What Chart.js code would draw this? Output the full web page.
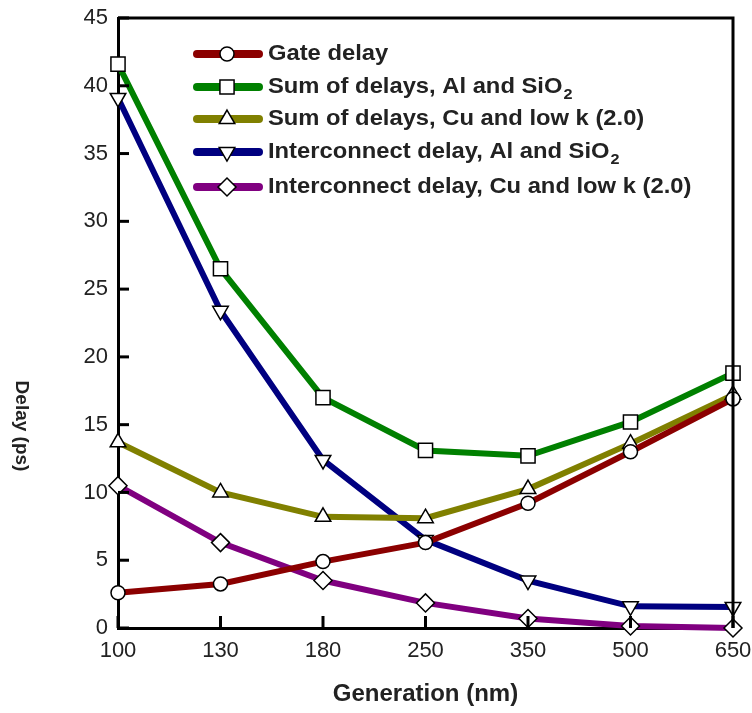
<!DOCTYPE html>
<html>
<head>
<meta charset="utf-8">
<script src="https://cdn.jsdelivr.net/npm/chart.js@4.4.0/dist/chart.umd.min.js"></script>
<style>
html, body { margin: 0; padding: 0; background: #fff; }
</style>
</head>
<body>
<canvas id="grafica" width="752" height="713"></canvas>
<script>
const generaciones = ['100', '130', '180', '250', '350', '500', '650'];
const yTicks = [0, 5, 10, 15, 20, 25, 30, 35, 40, 45];

const gateDelay  = [2.6, 3.25, 4.9, 6.3, 9.2, 13.0, 16.9];
const sumAlSiO2  = [41.6, 26.5, 17.0, 13.1, 12.7, 15.2, 18.8];
const sumCuLowK  = [13.7, 10.0, 8.2, 8.1, 10.25, 13.6, 17.2];
const interAlSiO2 = [39.1, 23.4, 12.4, 6.5, 3.5, 1.6, 1.55];
const interCuLowK = [10.5, 6.3, 3.5, 1.85, 0.7, 0.15, 0.0];

const FUENTE = '"Liberation Sans", Arial, sans-serif';

function serie(label, data, color, estilo, radio, rot) {
    return {
        label: label,
        data: data,
        borderColor: color,
        borderWidth: 6,
        fill: false,
        tension: 0,
        clip: false,
        pointStyle: estilo,
        pointRadius: radio,
        pointRotation: rot || 0,
        pointBackgroundColor: '#fff',
        pointBorderColor: '#000',
        pointBorderWidth: 1.5
    };
}

// ticks hacia dentro, marco superior/derecho, leyenda y titulo Y
const marco = {
    id: 'marco',
    afterDraw(chart) {
        const ctx = chart.ctx;
        const a = chart.chartArea;
        const xs = chart.scales.x, ys = chart.scales.y;
        ctx.save();
        ctx.strokeStyle = '#000';
        ctx.lineWidth = 3;
        ctx.beginPath();
        ctx.moveTo(a.left, a.top);
        ctx.lineTo(a.right, a.top);
        ctx.lineTo(a.right, a.bottom);
        ctx.stroke();
        ys.ticks.forEach(t => {
            const y = ys.getPixelForValue(t.value);
            ctx.beginPath();
            ctx.moveTo(a.left, y);
            ctx.lineTo(a.left + 11, y);
            ctx.stroke();
        });
        xs.ticks.forEach((t, i) => {
            const x = xs.getPixelForTick(i);
            ctx.beginPath();
            ctx.moveTo(x, a.bottom);
            ctx.lineTo(x, a.bottom - 12);
            ctx.stroke();
        });

        // titulo eje Y (leido de arriba hacia abajo)
        ctx.save();
        ctx.translate(21, 426);
        ctx.rotate(Math.PI / 2);
        ctx.font = 'bold 19px ' + FUENTE;
        ctx.fillStyle = '#222';
        ctx.textAlign = 'center';
        ctx.textBaseline = 'middle';
        ctx.fillText('Delay (ps)', 0, 0);
        ctx.restore();

        // leyenda dentro del area
        const x0 = 197, x1 = 259, xm = 227, xt = 268;
        const filas = [54, 87, 119, 152, 187];
        chart.data.datasets.forEach((ds, i) => {
            const y = filas[i];
            ctx.strokeStyle = ds.borderColor;
            ctx.lineWidth = 8;
            ctx.lineCap = 'round';
            ctx.beginPath();
            ctx.moveTo(x0, y);
            ctx.lineTo(x1, y);
            ctx.stroke();
            ctx.fillStyle = '#fff';
            ctx.strokeStyle = '#000';
            ctx.lineWidth = 1.5;
            Chart.helpers.drawPoint(ctx, {
                pointStyle: ds.pointStyle,
                rotation: ds.pointRotation,
                radius: ds.pointRadius,
                borderWidth: 1.5
            }, xm, y);

            // texto algo ensanchado como en el original
            ctx.save();
            ctx.translate(xt, y);
            ctx.scale(1.08, 1);
            ctx.fillStyle = '#222';
            ctx.textAlign = 'left';
            ctx.textBaseline = 'middle';
            const partes = ds.label.split('\u2082');
            ctx.font = 'bold 22px ' + FUENTE;
            ctx.fillText(partes[0], 0, 0);
            if (partes.length > 1) {
                const w = ctx.measureText(partes[0]).width;
                ctx.font = 'bold 15px ' + FUENTE;
                ctx.fillText('2', w + 1, 8);
            }
            ctx.restore();
        });
        ctx.restore();
    }
};

new Chart(document.getElementById('grafica'), {
    type: 'line',
    data: {
        labels: generaciones,
        datasets: [
            serie('Gate delay', gateDelay, '#8b0000', 'circle', 7),
            serie('Sum of delays, Al and SiO\u2082', sumAlSiO2, '#008000', 'rect', 10),
            serie('Sum of delays, Cu and low k (2.0)', sumCuLowK, '#808000', 'triangle', 9),
            serie('Interconnect delay, Al and SiO\u2082', interAlSiO2, '#000080', 'triangle', 9, 180),
            serie('Interconnect delay, Cu and low k (2.0)', interCuLowK, '#800080', 'rectRot', 9)
        ]
    },
    options: {
        responsive: false,
        animation: false,
        layout: { autoPadding: false, padding: { top: 18, right: 0, left: 0, bottom: 0 } },
        plugins: {
            legend: { display: false },
            tooltip: { enabled: false }
        },
        scales: {
            x: {
                offset: false,
                grid: { display: false, drawTicks: false },
                border: { display: true, color: '#000', width: 3 },
                ticks: {
                    color: '#222',
                    padding: 10,
                    maxRotation: 0,
                    font: { family: FUENTE, size: 22 }
                },
                title: {
                    display: true,
                    text: 'Generation (nm)',
                    color: '#222',
                    padding: { top: 10 },
                    font: { family: FUENTE, size: 24, weight: 'bold' }
                },
                afterFit(s) {
                    s.height = 713 - 628;
                    s.paddingLeft = 0;
                    s.paddingRight = 19;
                }
            },
            y: {
                min: 0,
                max: 45,
                grid: { display: false, drawTicks: false },
                border: { display: true, color: '#000', width: 3 },
                afterBuildTicks(s) { s.ticks = yTicks.map(v => ({ value: v })); },
                ticks: {
                    color: '#222',
                    padding: 10,
                    font: { family: FUENTE, size: 22 }
                },
                afterFit(s) {
                    s.width = 118;
                    s.paddingTop = 0;
                    s.paddingBottom = 0;
                }
            }
        }
    },
    plugins: [marco]
});
</script>
</body>
</html>
